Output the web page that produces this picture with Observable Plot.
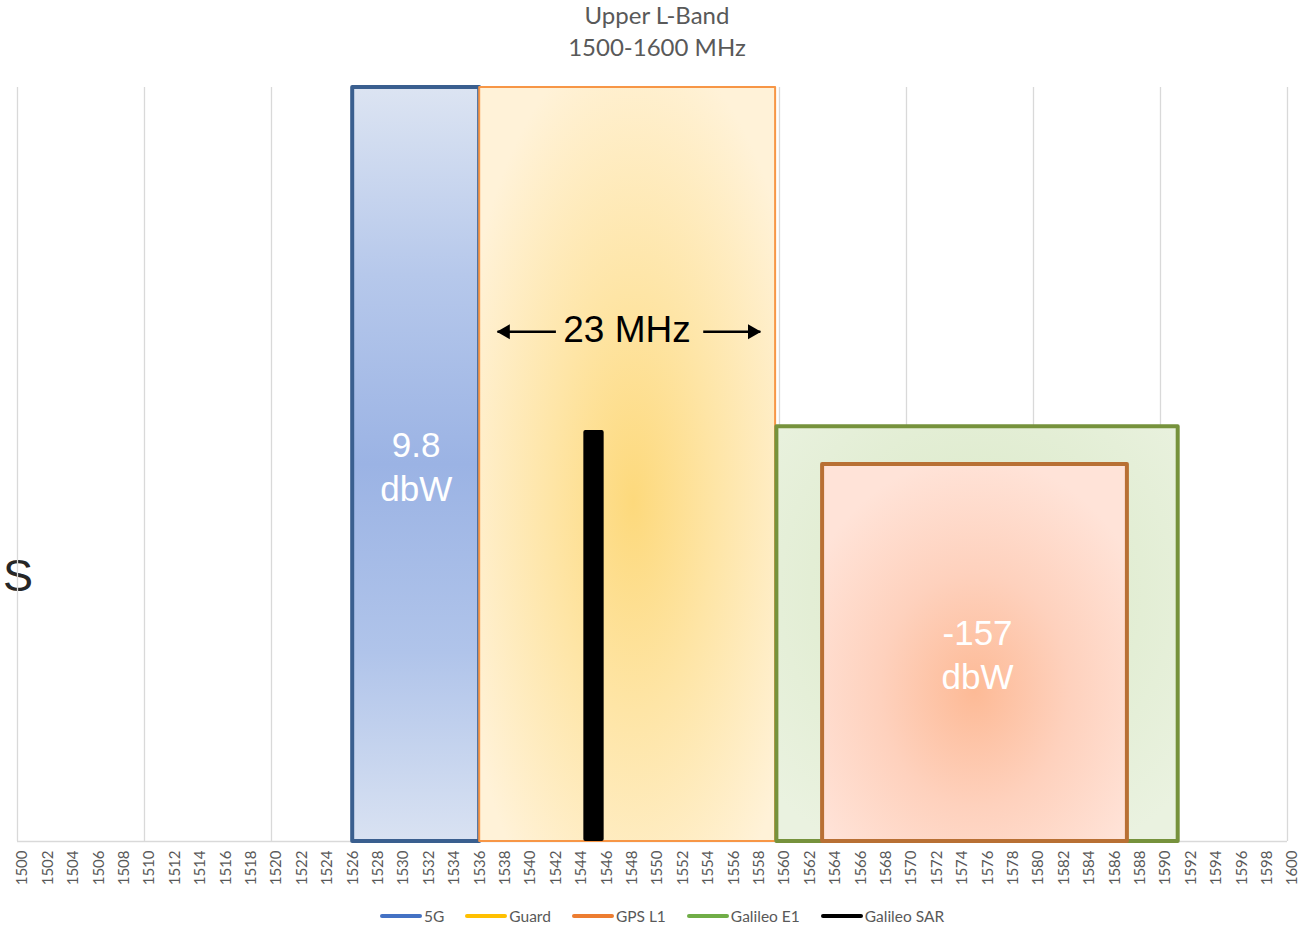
<!DOCTYPE html>
<html>
<head>
<meta charset="utf-8">
<script src="https://cdn.jsdelivr.net/npm/d3@7"></script>
<script src="https://cdn.jsdelivr.net/npm/@observablehq/plot@0.6"></script>
<style>
  html, body { margin:0; padding:0; background:#fff; }
  body { width:1301px; height:927px; overflow:hidden; position:relative; }
  .title { position:absolute; left:13px; width:1288px; text-align:center; font-family:Lato, sans-serif; font-size:24px; color:#595959; line-height:32px; }
  #chart { position:absolute; left:0; top:65px; }
  #legend { position:absolute; left:380px; top:906px; display:flex; gap:21px; font-family:Lato, sans-serif; font-size:15.5px; color:#595959; line-height:20px; }
  .item { display:flex; align-items:center; }
  .swatch { display:inline-block; width:42px; height:4px; margin-right:2px; border-radius:2px; }
  .cut { position:absolute; font-family:"Liberation Sans", Arial, sans-serif; font-size:45px; color:#262626; white-space:nowrap; }
</style>
</head>
<body>
<div class="title" style="top:-1px">Upper L-Band<br>1500-1600 MHz</div>
<div class="cut" style="left:3px; top:550px;">S</div>
<div id="chart"></div>
<div id="legend"></div>
<script>
// ---- data ----
const bandNames = ["5G", "Guard", "Galileo SAR", "Galileo E1", "GPS L1"];   // drawing order
const bandStartMHz = [1526, 1536, 1544.2, 1559.4, 1563];
const bandEndMHz   = [1536, 1559.3, 1545.8, 1591, 1587];
const bandLevel    = [100, 100, 54.5, 55, 50];

const legendNames = ["5G", "Guard", "GPS L1", "Galileo E1", "Galileo SAR"];

const powerLabelText = ["9.8\ndbW", "-157\ndbW"];
const powerLabelMHz  = [1531, 1575.2];
const powerLabelLevel = [50, 25];

const spanLabelText = ["23 MHz"];
const spanLabelMHz = [1547.6];
const spanLabelLevel = [67.8];

const arrowFromMHz = [1542.0, 1553.6];
const arrowToMHz   = [1537.4, 1558.1];
const arrowLevel   = [67.6, 67.6];

const gridMHz = [1500, 1510, 1520, 1530, 1540, 1550, 1560, 1570, 1580, 1590, 1600];
const tickMHz = [1500,1502,1504,1506,1508,1510,1512,1514,1516,1518,1520,1522,1524,1526,1528,1530,
  1532,1534,1536,1538,1540,1542,1544,1546,1548,1550,1552,1554,1556,1558,1560,1562,1564,1566,1568,
  1570,1572,1574,1576,1578,1580,1582,1584,1586,1588,1590,1592,1594,1596,1598,1600];

// ---- styles ----
const bandStyle = {
  "5G":          {fill: "url(#g5g)",   stroke: "#3a5f8f", strokeWidth: 4},
  "Guard":       {fill: "url(#gguard)", stroke: "#f79646", strokeWidth: 2},
  "Galileo SAR": {fill: "#000000",     stroke: "none",    strokeWidth: 0},
  "Galileo E1":  {fill: "url(#ge1)",   stroke: "#76923c", strokeWidth: 4},
  "GPS L1":      {fill: "url(#ggps)",  stroke: "#b87034", strokeWidth: 4}
};
const legendColor = {"5G": "#4472c4", "Guard": "#ffc000", "GPS L1": "#ed7d31", "Galileo E1": "#70ad47", "Galileo SAR": "#000000"};

// ---- tables ----
const bands = bandNames.map((name, i) => ({name, x1: bandStartMHz[i], x2: bandEndMHz[i], y: bandLevel[i]}));
const powerLabels = powerLabelText.map((t, i) => ({text: t, x: powerLabelMHz[i], y: powerLabelLevel[i]}));
const spanLabels = spanLabelText.map((t, i) => ({text: t, x: spanLabelMHz[i], y: spanLabelLevel[i]}));
const arrows = arrowFromMHz.map((a, i) => ({x1: a, x2: arrowToMHz[i], y: arrowLevel[i], dir: arrowToMHz[i] > a ? 1 : -1}));

const rectMarks = bands.map(b => {
  const s = bandStyle[b.name];
  return Plot.rect([b], {
    x1: "x1", x2: "x2", y1: () => 0, y2: "y",
    fill: s.fill, stroke: s.stroke, strokeWidth: s.strokeWidth,
    strokeLinejoin: "round",
    rx: b.name === "Galileo SAR" ? 2 : 0
  });
});

const chart = Plot.plot({
  width: 1301,
  height: 830,
  marginTop: 22,
  marginBottom: 54,
  marginLeft: 22,
  marginRight: 9,
  style: {fontFamily: "Lato, sans-serif", color: "#595959", background: "transparent"},
  x: {domain: [1500, 1600], axis: null},
  y: {domain: [0, 100], axis: null},
  marks: [
    Plot.ruleX(gridMHz, {x: d => d, y1: () => 0, y2: () => 100, stroke: "#d9d9d9", strokeWidth: 1.3, dx: -5}),
    Plot.ruleY([0], {stroke: "#d9d9d9", strokeWidth: 1.3, dx: -5}),
    ...rectMarks,
    Plot.text(powerLabels, {x: "x", y: "y", text: "text", fill: "#ffffff", fontSize: 35, lineHeight: 1.27, fontFamily: "Liberation Sans, Arial, sans-serif"}),
    Plot.text(spanLabels, {x: "x", y: "y", text: "text", fill: "#000000", fontSize: 37, fontFamily: "Liberation Sans, Arial, sans-serif"}),
    Plot.link(arrows, {x1: "x1", x2: "x2", y1: "y", y2: "y", stroke: "#000", strokeWidth: 2.6}),
    Plot.dot(arrows.filter(a => a.dir < 0), {x: "x2", y: "y", symbol: "triangle", rotate: -90, r: 5.6, fill: "#000", stroke: "none", dx: 8}),
    Plot.dot(arrows.filter(a => a.dir > 0), {x: "x2", y: "y", symbol: "triangle", rotate: 90, r: 5.6, fill: "#000", stroke: "none", dx: -8}),
    Plot.axisX(tickMHz, {tickRotate: -90, tickSize: 0, tickPadding: 9, fontSize: 15, tickFormat: d => String(d), fill: "#595959"})
  ]
});

// gradients
const defs = d3.select(chart).insert("defs", ":first-child");
function radial(id, cx, cy, r, stops) {
  const g = defs.append("radialGradient").attr("id", id).attr("cx", cx).attr("cy", cy).attr("r", r);
  stops.forEach(([o, c]) => g.append("stop").attr("offset", o).attr("stop-color", c));
}
function linear(id, stops) {
  const g = defs.append("linearGradient").attr("id", id).attr("x1", 0).attr("y1", 0).attr("x2", 0).attr("y2", 1);
  stops.forEach(([o, c]) => g.append("stop").attr("offset", o).attr("stop-color", c));
}
linear("g5g", [[0, "#dce4f2"], [0.25, "#b6c8eb"], [0.5, "#9bb3e4"], [0.75, "#b0c4ea"], [1, "#d9e2f2"]]);
radial("gguard", 0.52, 0.55, 0.62, [[0, "#fdd97c"], [0.45, "#fee5a6"], [1, "#fff2d8"]]);
radial("ge1", 0.5, 0.4, 0.7, [[0, "#d9e8c5"], [1, "#eaf2e0"]]);
radial("ggps", 0.5, 0.6, 0.62, [[0, "#fdba96"], [0.5, "#fed1bd"], [1, "#ffe3d8"]]);

document.getElementById("chart").appendChild(chart);

// legend
const legend = d3.select("#legend");
legendNames.forEach(n => {
  const it = legend.append("div").attr("class", "item");
  it.append("span").attr("class", "swatch").style("background", legendColor[n]);
  it.append("span").text(n);
});
</script>
</body>
</html>
